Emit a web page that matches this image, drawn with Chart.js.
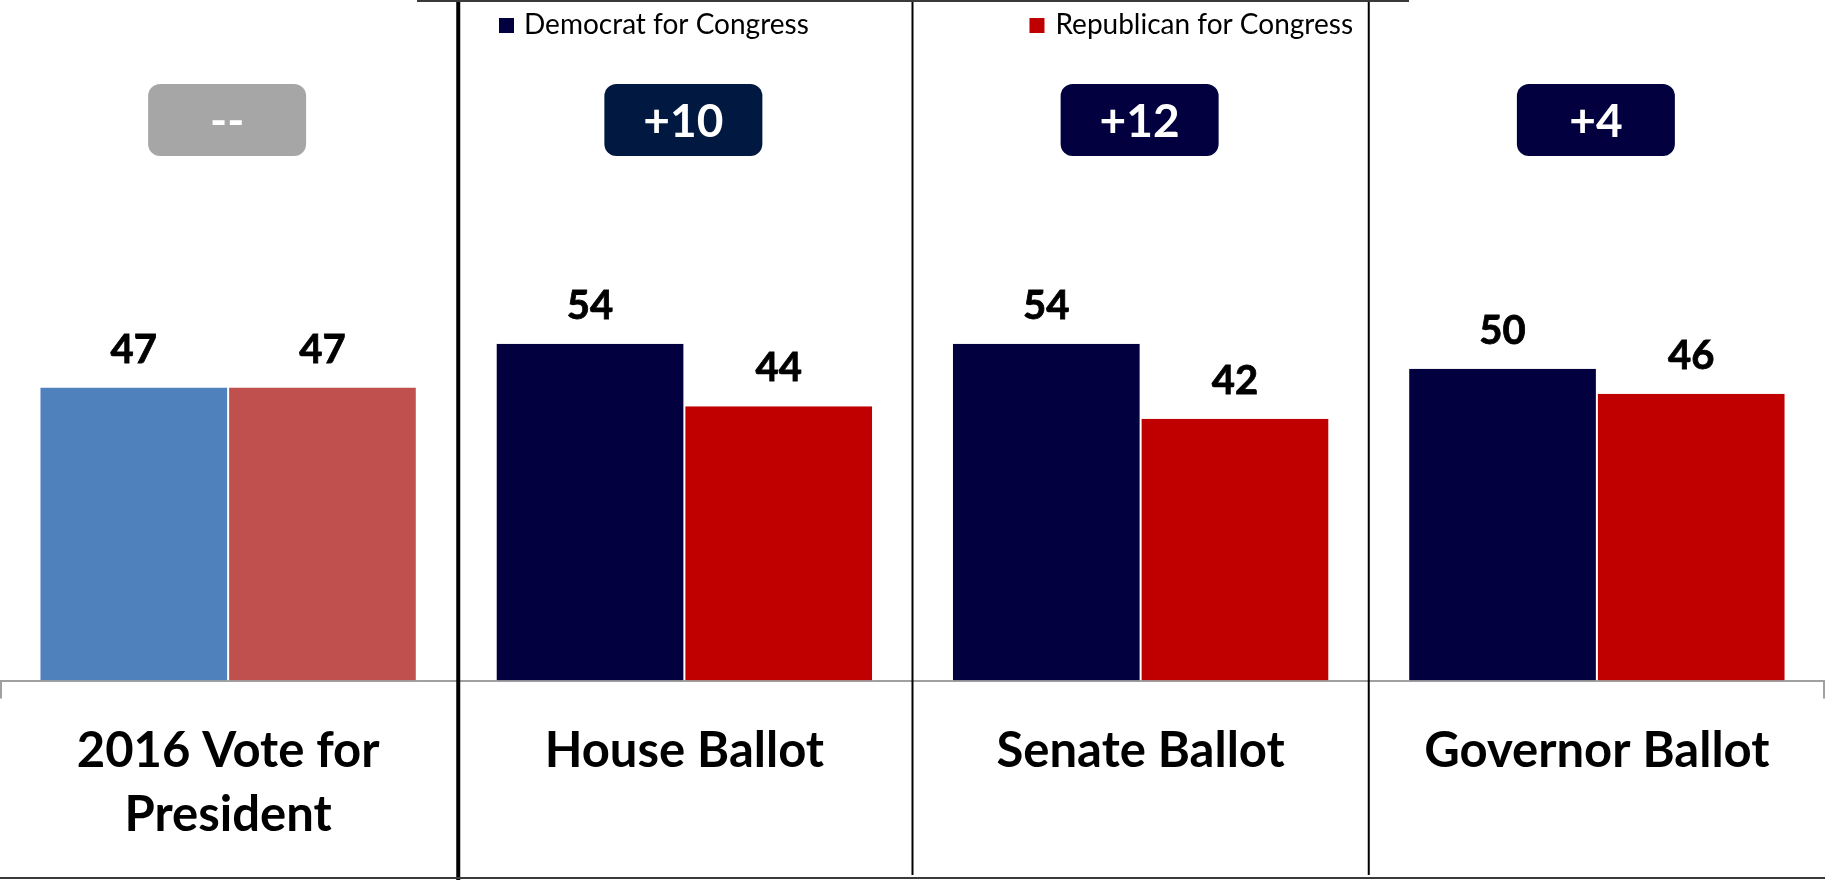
<!DOCTYPE html>
<html>
<head>
<meta charset="utf-8">
<script src="https://cdn.jsdelivr.net/npm/chart.js@4"></script>
<style>
  html, body { margin:0; padding:0; background:#ffffff; }
  #wrap { width:1825px; height:880px; position:relative; }
</style>
</head>
<body>
<div id="wrap"><canvas id="ballot-chart"></canvas></div>
<script>
// Generic ballot vs 2016 vote — grouped bars with margin badges
const CATEGORIES = [['2016 Vote for', 'President'], 'House Ballot', 'Senate Ballot', 'Governor Ballot'];
const SERIES_LABELS = ['Democrat for Congress', 'Republican for Congress'];
const DEM_VALUES = [47, 54, 54, 50];
const REP_VALUES = [47, 44, 42, 46];
const MARGIN_LABELS = ['--', '+10', '+12', '+4'];

const FONT = 'Lato, "Open Sans", sans-serif';
const NAVY = '#02003f';
const RED = '#c00000';
const DEM_COLORS = ['#4f81bd', NAVY, NAVY, NAVY];
const REP_COLORS = ['#c0504d', RED, RED, RED];
const BADGE_COLORS = ['#a6a6a6', '#011840', NAVY, NAVY];

const overlay = {
  id:'overlay',
  afterDatasetsDraw(chart){
    const { ctx, chartArea:ca, scales:{ x } } = chart;
    const W = chart.width, H = chart.height;
    ctx.save();

    // value labels above bars (thin stroke to get the heavy look)
    ctx.fillStyle = '#000';
    ctx.strokeStyle = '#000';
    ctx.lineWidth = 0.8;
    ctx.font = 'bold 40px ' + FONT;
    ctx.textAlign = 'center';
    ctx.textBaseline = 'alphabetic';
    chart.data.datasets.forEach((ds, di) => {
      chart.getDatasetMeta(di).data.forEach((bar, i) => {
        ctx.fillText(String(ds.data[i]), bar.x, bar.y - 25);
        ctx.strokeText(String(ds.data[i]), bar.x, bar.y - 25);
      });
    });

    // margin badges
    MARGIN_LABELS.forEach((txt, i) => {
      const cx = x.getPixelForValue(i);
      ctx.fillStyle = BADGE_COLORS[i];
      ctx.beginPath();
      ctx.roundRect(cx - 80, 84, 158, 72, 12);
      ctx.fill();
      ctx.fillStyle = '#fff';
      ctx.font = 'bold 46px ' + FONT;
      ctx.textBaseline = 'middle';
      ctx.fillText(txt, cx - 1, 122);
    });

    // axis end ticks
    ctx.strokeStyle = '#a0a0a0';
    ctx.lineWidth = 2;
    ctx.beginPath();
    ctx.moveTo(1, ca.bottom); ctx.lineTo(1, ca.bottom + 18);
    ctx.moveTo(W - 1, ca.bottom); ctx.lineTo(W - 1, ca.bottom + 18);
    ctx.stroke();

    // table frame: separators between groups
    ctx.strokeStyle = '#000';
    for(let i = 0; i < CATEGORIES.length - 1; i++){
      const sx = (x.getPixelForValue(i) + x.getPixelForValue(i + 1)) / 2 + (i === 0 ? 2 : 0);
      ctx.lineWidth = i === 0 ? 4 : 2;
      ctx.beginPath();
      ctx.moveTo(sx, 0);
      ctx.lineTo(sx, i === 0 ? H : H - 5);
      ctx.stroke();
    }
    ctx.strokeStyle = '#3a3a3a';
    ctx.lineWidth = 2;
    ctx.beginPath();
    ctx.moveTo(417, 1); ctx.lineTo(1409, 1);
    ctx.moveTo(0, H - 2); ctx.lineTo(W, H - 2);
    ctx.stroke();

    // legend
    ctx.font = '28px ' + FONT;
    ctx.textBaseline = 'middle';
    ctx.textAlign = 'left';
    const demX = 499;
    ctx.fillStyle = NAVY;
    ctx.fillRect(demX, 18, 15, 15);
    ctx.fillStyle = '#000';
    ctx.fillText(SERIES_LABELS[0], demX + 25, 25);
    const repEnd = 1353;
    const rw = ctx.measureText(SERIES_LABELS[1]).width;
    ctx.fillStyle = RED;
    ctx.fillRect(repEnd - rw - 26, 18, 15, 15);
    ctx.fillStyle = '#000';
    ctx.fillText(SERIES_LABELS[1], repEnd - rw, 25);

    ctx.restore();
  }
};

new Chart(document.getElementById('ballot-chart'), {
  type:'bar',
  data:{
    labels:CATEGORIES,
    datasets:[
      { label:SERIES_LABELS[0], data:DEM_VALUES, backgroundColor:DEM_COLORS,
        borderColor:'#fff', borderWidth:{ left:1, right:1, top:0, bottom:0 }, borderSkipped:false },
      { label:SERIES_LABELS[1], data:REP_VALUES, backgroundColor:REP_COLORS,
        borderColor:'#fff', borderWidth:{ left:1, right:1, top:0, bottom:0 }, borderSkipped:false }
    ]
  },
  options:{
    responsive:true, maintainAspectRatio:false, animation:false,
    layout:{ padding:{ top:57, bottom:-6, left:0, right:0 } },
    plugins:{ legend:{ display:false }, tooltip:{ enabled:false } },
    datasets:{ bar:{ categoryPercentage:0.827, barPercentage:1 } },
    scales:{
      x:{
        grid:{ display:false, drawTicks:false },
        border:{ display:true, color:'#a0a0a0', width:2 },
        ticks:{ color:'#000', padding:39, maxRotation:0, autoSkip:false,
                font:{ family:FONT, size:49, weight:'bold', lineHeight:1.3 } }
      },
      y:{ display:false, min:0, max:100 }
    }
  },
  plugins:[overlay]
});
</script>
</body>
</html>
